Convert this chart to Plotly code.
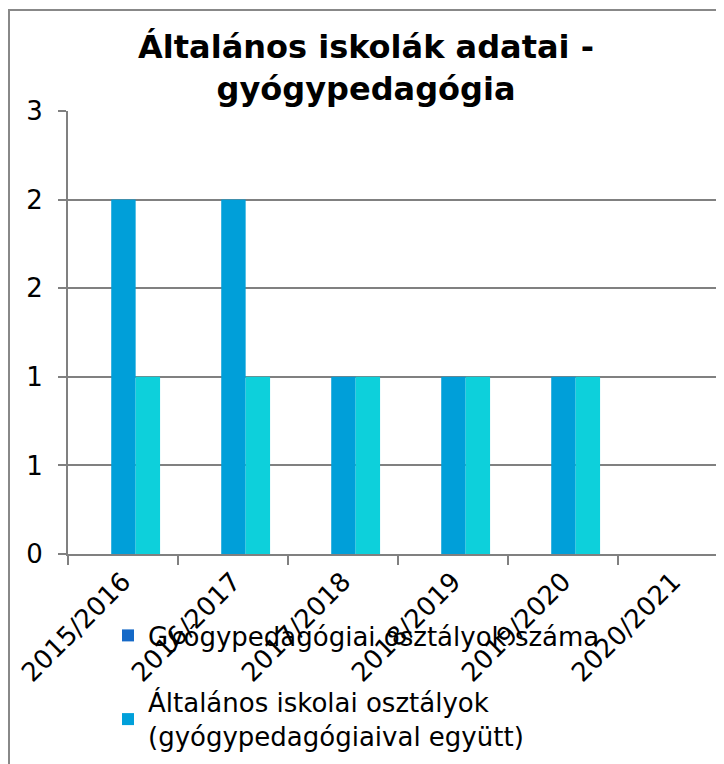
import plotly.graph_objects as go

categories = ["2015/2016", "2016/2017", "2017/2018", "2018/2019", "2019/2020", "2020/2021"]
gyogy = [2, 2, 1, 1, 1, None]
altalanos = [1, 1, 1, 1, 1, None]
series_names = ["Gyógypedagógiai osztályok száma",
                "Általános iskolai osztályok<br>(gyógypedagógiaival együtt)"]
y_tickvals = [0, 0.5, 1, 1.5, 2, 2.5]
y_ticktext = ["0", "1", "1", "2", "2", "3"]

bar_colors = ["#009FD9", "#0DD0DB"]
legend_colors = ["#1569C7", "#00A0DA"]
FONT = "DejaVu Sans, Verdana, sans-serif"

fig = go.Figure()
fig.add_trace(go.Bar(x=categories, y=gyogy, marker=dict(color=bar_colors[0], line=dict(width=0)),
                     width=0.222, offset=-0.107, showlegend=False, name=series_names[0]))
fig.add_trace(go.Bar(x=categories, y=altalanos, marker=dict(color=bar_colors[1], line=dict(width=0)),
                     width=0.222, offset=0.115, showlegend=False, name=series_names[1]))
# legend entries
for i, (nm, c) in enumerate(zip(series_names, legend_colors)):
    fig.add_trace(go.Bar(x=[None], y=[None], name=nm, marker=dict(color=c, line=dict(width=0)),
                         showlegend=True, legendgroup="g%d" % i))

# page has an 8px body margin: figure coordinates = page coordinates - 8
L, T, B = 60, 103, 210
W, H = 716, 756
pw = W - L
ph = H - T - B
PB = H - B  # plot bottom in figure px

fig.update_layout(
    width=W, height=H,
    margin=dict(l=L, r=0, t=T, b=B, pad=0, autoexpand=False),
    paper_bgcolor="white", plot_bgcolor="white",
    barmode="overlay",
    font=dict(family=FONT, size=26, color="black"),
    title=dict(text="<b>Általános iskolák adatai -<br>gyógypedagógia</b>",
               x=358 / W, xanchor="center", xref="container",
               y=1 - 50 / H, yanchor="top",
               font=dict(family=FONT, size=32, color="black")),
    showlegend=True,
    legend=dict(x=(100 - L) / pw, xanchor="left", y=(PB - 604) / ph, yanchor="top",
                bgcolor="rgba(0,0,0,0)", font=dict(family=FONT, size=26),
                tracegroupgap=30, itemsizing="constant"),
    xaxis=dict(type="category", range=[-0.5, -0.5 + pw / 110.0],
               showline=True, linecolor="#808080", linewidth=2,
               ticks="outside", ticklen=9, tickcolor="#808080", tickwidth=2,
               tickson="boundaries", tickangle=-45, showgrid=False,
               tickfont=dict(family=FONT, size=26), fixedrange=True),
    yaxis=dict(range=[0, 2.5], tickvals=y_tickvals, ticktext=y_ticktext,
               showline=True, linecolor="#808080", linewidth=2,
               ticks="outside", ticklen=8, tickcolor="#808080", tickwidth=2,
               ticklabelstandoff=10,
               showgrid=True, gridcolor="#808080", gridwidth=1.5, zeroline=False,
               tickfont=dict(family=FONT, size=26), fixedrange=True),
)

# outer chart border
fig.add_shape(type="rect", xref="paper", yref="paper",
              x0=(0 - L) / pw + 1 / pw, x1=1.02, y0=(PB - 775) / ph, y1=(PB - 2) / ph,
              line=dict(color="#888888", width=2), fillcolor="rgba(0,0,0,0)", layer="below")

fig.write_html("out.html")
